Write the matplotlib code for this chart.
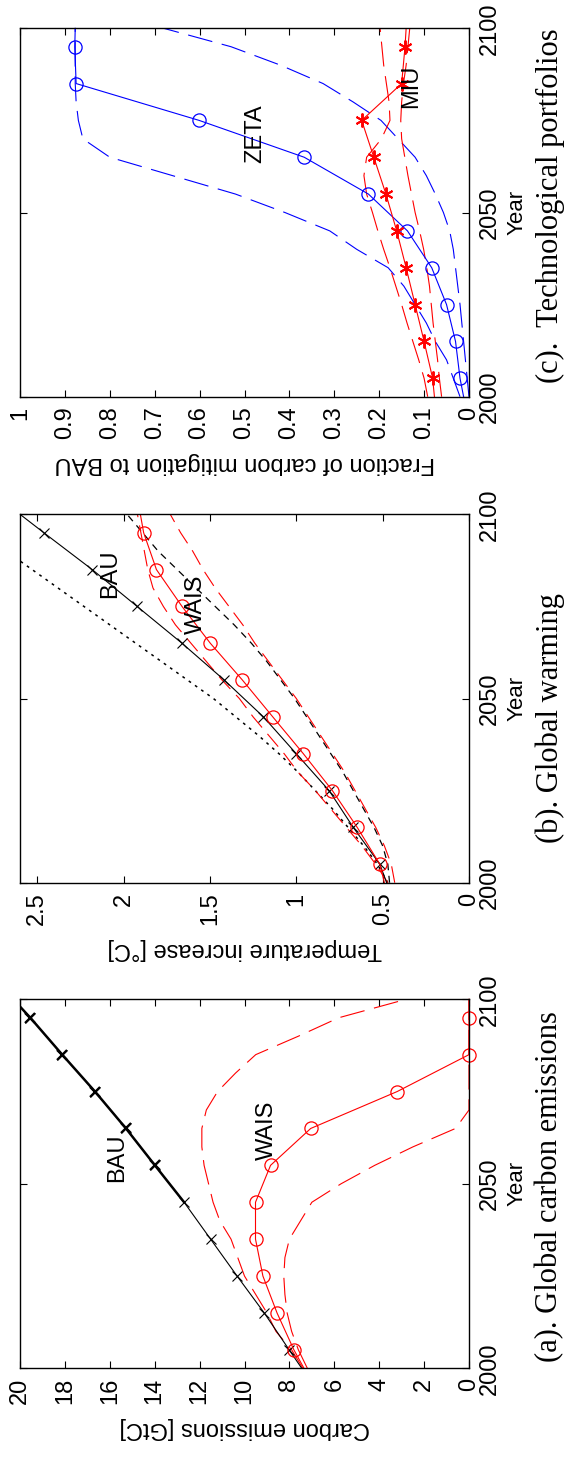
import matplotlib
matplotlib.use('Agg')
import matplotlib.pyplot as plt

plt.rcParams['font.family'] = ['Liberation Sans', 'DejaVu Sans']
plt.rcParams['lines.scale_dashes'] = False

# years of the marked series (markers at 2005..2095) and of the 5-year bound curves
years_mk = [2000, 2005, 2015, 2025, 2035, 2045, 2055, 2065, 2075, 2085, 2095, 2100]
years_5 = list(range(2000, 2101, 5))

# (a) global carbon emissions [GtC]
bau_emis = [7.45, 8.01, 9.12, 10.33, 11.51, 12.69, 13.99, 15.28, 16.66, 18.12, 19.54, 20.3]
wais_emis = [7.35, 7.80, 8.55, 9.18, 9.51, 9.51, 8.84, 7.05, 3.2, 0.0, 0.0, 0.0]
wais_emis_hi = [7.4, 7.9, 8.6, 9.0, 9.5, 10.0, 10.3, 10.6, 11.1, 11.4, 11.6, 11.8,
                11.9, 11.9, 11.7, 11.2, 10.4, 9.5, 7.6, 5.8, 2.8]
wais_emis_lo = [7.2, 7.6, 7.9, 8.1, 8.2, 8.25, 8.2, 8.0, 7.5, 7.0, 5.7, 4.2,
                2.5, 0.6, 0.0, 0.0, 0.0, 0.0, 0.0, 0.0, 0.0]

# (b) global warming [C]
bau_temp = [0.477, 0.516, 0.67, 0.81, 1.0, 1.19, 1.417, 1.662, 1.922, 2.182, 2.462, 2.6]
wais_temp = [0.49, 0.516, 0.647, 0.791, 0.959, 1.136, 1.312, 1.498, 1.662, 1.81, 1.884, 1.903]
bau_temp_hi = [0.47, 0.53, 0.61, 0.70, 0.79, 0.89, 0.99, 1.10, 1.22, 1.35, 1.48, 1.63,
               1.78, 1.93, 2.08, 2.23, 2.38, 2.53, 2.68, 2.83, 2.98]
bau_temp_lo = [0.46, 0.47, 0.50, 0.55, 0.61, 0.67, 0.73, 0.80, 0.87, 0.94, 1.01, 1.09,
               1.17, 1.26, 1.36, 1.47, 1.58, 1.69, 1.80, 1.89, 1.98]
wais_temp_hi = [0.47, 0.54, 0.62, 0.71, 0.80, 0.89, 0.99, 1.07, 1.16, 1.25, 1.33, 1.43,
                1.52, 1.61, 1.70, 1.77, 1.83, 1.86, 1.88, 1.90, 1.92]
wais_temp_lo = [0.43, 0.45, 0.49, 0.54, 0.60, 0.66, 0.72, 0.79, 0.86, 0.93, 1.00, 1.08,
                1.16, 1.24, 1.31, 1.39, 1.47, 1.54, 1.60, 1.67, 1.73]

# (c) technological portfolios, fraction of mitigation
zeta = [0.012, 0.02, 0.03, 0.05, 0.083, 0.137, 0.224, 0.367, 0.601, 0.875, 0.878, 0.877]
miu = [0.077, 0.081, 0.10, 0.12, 0.14, 0.161, 0.185, 0.212, 0.239, 0.15, 0.1425, 0.14]
zeta_hi = [0.02, 0.035, 0.05, 0.075, 0.095, 0.12, 0.145, 0.18, 0.25, 0.31, 0.41, 0.52,
           0.66, 0.80, 0.86, 0.87, 0.875, 0.877, 0.877, 0.877, 0.877]
zeta_lo = [0.0, 0.004, 0.008, 0.012, 0.016, 0.02, 0.025, 0.03, 0.035, 0.043, 0.057, 0.075,
           0.095, 0.12, 0.158, 0.196, 0.258, 0.325, 0.42, 0.53, 0.68]
miu_hi = [0.092, 0.10, 0.112, 0.125, 0.138, 0.15, 0.163, 0.176, 0.19, 0.203, 0.215, 0.228,
          0.234, 0.228, 0.195, 0.176, 0.178, 0.184, 0.19, 0.194, 0.198]
miu_lo = [0.061, 0.066, 0.07, 0.075, 0.08, 0.084, 0.088, 0.094, 0.101, 0.11, 0.12, 0.128,
          0.136, 0.143, 0.15, 0.152, 0.15, 0.146, 0.14, 0.136, 0.132]

MK = slice(1, 11)
LONG = (18, 7)
FS = 17


def setup(ax, vmax, vticks, vlabel):
    # figure is drawn turned 90 degrees: value axis runs right-to-left, years bottom-to-top
    ax.set_xlim(vmax, 0)
    ax.set_ylim(2000, 2100)
    ax.set_xticks(vticks)
    ax.set_yticks([2000, 2050, 2100])
    ax.tick_params(direction='in', top=True, bottom=True, left=True, right=True,
                   labelleft=False, labelright=True, length=5, width=0.8,
                   labelsize=FS)
    ax.tick_params(axis='x', labelrotation=90, pad=7)
    ax.tick_params(axis='y', labelrotation=90, pad=7)
    for lab in ax.get_yticklabels():
        lab.set_va('center')
    for s in ax.spines.values():
        s.set_linewidth(1.0)
    ax.set_xlabel(vlabel, rotation=180, fontsize=FS, labelpad=9)
    ax.yaxis.set_label_position('right')
    ax.set_ylabel('Year', rotation=90, fontsize=16, labelpad=4)


fig = plt.figure(figsize=(5.64, 14.61), dpi=100)
left, width = 20 / 564, 449 / 564
ax_c = fig.add_axes([left, 0.72847, width, 0.25216])
ax_b = fig.add_axes([left, 0.39582, width, 0.25216])
ax_a = fig.add_axes([left, 0.06345, width, 0.25257])

# ---- (a)
ax = ax_a
ax.plot(wais_emis_hi, years_5, color='r', lw=0.8, dashes=LONG)
ax.plot(wais_emis_lo, years_5, color='r', lw=0.8, dashes=LONG)
ax.plot(bau_emis, years_mk, color='k', lw=0.8, marker='x', ms=7, mew=0.8, markevery=MK)
ax.plot(bau_emis[5:], years_mk[5:], color='k', lw=1.8, marker='x', ms=7, mew=1.6,
        markevery=slice(1, 6))
ax.plot(wais_emis, years_mk, color='r', lw=0.8, marker='o', ms=9.5, mfc='none',
        mew=0.9, markevery=MK, clip_on=False)
ax.text(15.68, 2057, 'BAU', rotation=90, ha='center', va='center', fontsize=FS)
ax.text(9.0, 2064.5, 'WAIS', rotation=90, ha='center', va='center', fontsize=FS)
setup(ax, 20, range(0, 21, 2), 'Carbon emissions [GtC]')

# ---- (b)
ax = ax_b
ax.plot(bau_temp_hi, years_5, color='k', lw=1.1, dashes=(2, 3.5))
ax.plot(bau_temp_lo, years_5, color='k', lw=0.9, dashes=(5, 4))
ax.plot(wais_temp_hi, years_5, color='r', lw=0.8, dashes=(12, 6))
ax.plot(wais_temp_lo, years_5, color='r', lw=0.8, dashes=(12, 6))
ax.plot(bau_temp, years_mk, color='k', lw=0.8, marker='x', ms=7, mew=0.8, markevery=MK)
ax.plot(wais_temp, years_mk, color='r', lw=0.8, marker='o', ms=9.5, mfc='none',
        mew=0.9, markevery=MK)
ax.text(2.08, 2083.8, 'BAU', rotation=90, ha='center', va='center', fontsize=FS)
ax.text(1.58, 2075.6, 'WAIS', rotation=90, ha='center', va='center', fontsize=FS)
setup(ax, 2.6, [0, 0.5, 1, 1.5, 2, 2.5], 'Temperature increase [\u00b0C]')
ax.set_xticklabels(['0', '0.5', '1', '1.5', '2', '2.5'])

# ---- (c)
ax = ax_c
ax.plot(zeta_hi, years_5, color='b', lw=0.8, dashes=LONG)
ax.plot(zeta_lo, years_5, color='b', lw=0.8, dashes=LONG)
ax.plot(miu_hi, years_5, color='r', lw=0.8, dashes=LONG)
ax.plot(miu_lo, years_5, color='r', lw=0.8, dashes=LONG)
ax.plot(zeta, years_mk, color='b', lw=0.8, marker='o', ms=9.5, mfc='none',
        mew=0.9, markevery=MK, clip_on=False)
ax.plot(miu, years_mk, color='r', lw=0.8, marker=(6, 2, 0), ms=10, mew=1.4,
        markevery=MK)
ax.text(0.477, 2071.3, 'ZETA', rotation=90, ha='center', va='center', fontsize=FS)
ax.text(0.129, 2084.3, 'MIU', rotation=90, ha='center', va='center', fontsize=FS)
setup(ax, 1.0, [i / 10 for i in range(11)], 'Fraction of carbon mitigation to BAU')
ax.set_xticklabels(['0', '0.1', '0.2', '0.3', '0.4', '0.5', '0.6', '0.7', '0.8', '0.9', '1'])

# captions, turned with the panels
cap = dict(rotation=90, ha='center', va='center', fontsize=22, family='Liberation Serif')
fig.text(550 / 564, 1 - 206 / 1461, '(c).  Technological portfolios', **cap)
fig.text(550 / 564, 1 - 718 / 1461, '(b). Global warming', **cap)
fig.text(550 / 564, 1 - 1187 / 1461, '(a). Global carbon emissions', **cap)

fig.savefig('out.png', dpi=100, facecolor='white')
